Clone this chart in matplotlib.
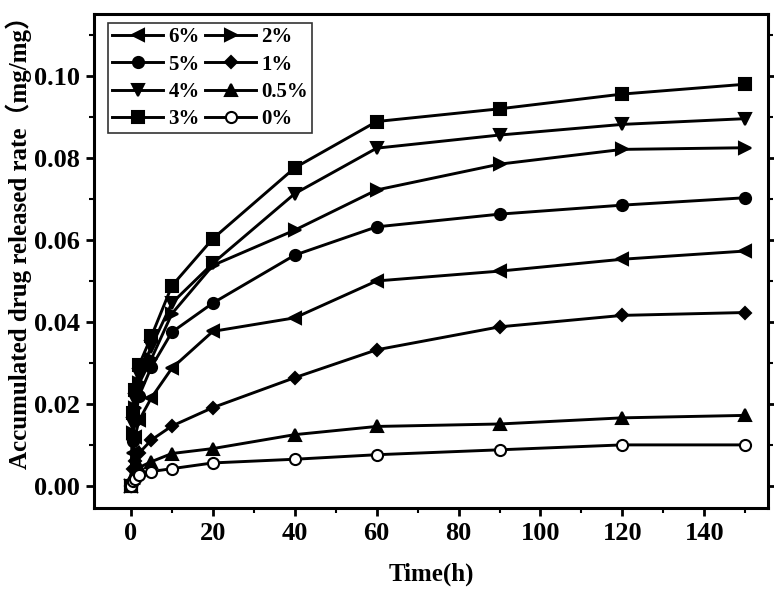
import matplotlib
matplotlib.use('Agg')
import matplotlib.pyplot as plt
from matplotlib.ticker import MultipleLocator

# release time (h)
t = [0, 0.5, 1, 2, 5, 10, 20, 40, 60, 90, 120, 150]

r6 = [0, 0.008, 0.012, 0.016, 0.0215, 0.0287, 0.0377, 0.0410, 0.0500, 0.0524, 0.0553, 0.0573]
r5 = [0, 0.011, 0.016, 0.022, 0.029, 0.0375, 0.0446, 0.0563, 0.0632, 0.0663, 0.0685, 0.0703]
r4 = [0, 0.015, 0.021, 0.027, 0.034, 0.0446, 0.0543, 0.0713, 0.0824, 0.0856, 0.0882, 0.0896]
r3 = [0, 0.0178, 0.0234, 0.0295, 0.0365, 0.0488, 0.0603, 0.0776, 0.0889, 0.0920, 0.0956, 0.0980]
r2 = [0, 0.013, 0.019, 0.025, 0.031, 0.042, 0.0538, 0.0624, 0.0722, 0.0785, 0.0821, 0.0825]
r1 = [0, 0.004, 0.006, 0.008, 0.0112, 0.0146, 0.0191, 0.0264, 0.0332, 0.0388, 0.0416, 0.0423]
r05 = [0, 0.002, 0.0035, 0.0045, 0.0059, 0.0079, 0.0091, 0.0125, 0.0145, 0.0151, 0.0166, 0.0172]
r0 = [0, 0.0012, 0.0016, 0.0027, 0.0035, 0.0042, 0.0056, 0.0065, 0.0076, 0.0088, 0.0100, 0.0100]

labels = ['6%', '5%', '4%', '3%', '2%', '1%', '0.5%', '0%']
markers = ['<', 'o', 'v', 's', '>', 'D', '^', 'o']
series = [r6, r5, r4, r3, r2, r1, r05, r0]

plt.rcParams['font.family'] = ['Liberation Serif', 'Noto Sans CJK SC']
plt.rcParams['font.weight'] = 'bold'

fig = plt.figure(figsize=(7.74, 5.89), dpi=100)
ax = fig.add_axes([0.1215, 0.1375, 0.8705, 0.8385])

for y, lab, m in zip(series, labels, markers):
    ms = 9 if m in '<>v^' else 8
    if m == 'D':
        ms = 6.5
    face = 'white' if lab == '0%' else 'black'
    ax.plot(t, y, color='black', lw=2.1, marker=m, ms=ms,
            markerfacecolor=face, markeredgecolor='black', mew=1.5,
            label=lab)

ax.set_xlim(-9, 155.5)
ax.set_ylim(-0.0054, 0.1151)
ax.xaxis.set_major_locator(MultipleLocator(20))
ax.xaxis.set_minor_locator(MultipleLocator(10))
ax.yaxis.set_major_locator(MultipleLocator(0.02))
ax.yaxis.set_minor_locator(MultipleLocator(0.01))
ax.yaxis.set_major_formatter(matplotlib.ticker.FormatStrFormatter('%.2f'))

for s in ax.spines.values():
    s.set_linewidth(2.2)
ax.tick_params(which='major', direction='out', length=6, width=2,
               labelsize=19, right=True, pad=4)
ax.tick_params(which='minor', direction='out', length=3.5, width=1.5,
               right=True)

ax.set_xlabel('Time(h)', fontsize=18, fontweight='bold')
ax.set_ylabel('Accumulated drug released rate（mg/mg）', fontsize=18,
              fontweight='bold')
ax.xaxis.set_label_coords(0.5, -0.11)
ax.yaxis.set_label_coords(-0.092, 0.55)

leg = ax.legend(ncol=2, loc='upper left', bbox_to_anchor=(0.0208, 0.9818),
                borderaxespad=0, fontsize=15, frameon=True, fancybox=False,
                edgecolor='black', handlelength=2.45, handletextpad=0.25,
                columnspacing=0.25, labelspacing=0.35, borderpad=0.2)
leg.get_frame().set_linewidth(1.2)

plt.savefig('out.png', dpi=100)
